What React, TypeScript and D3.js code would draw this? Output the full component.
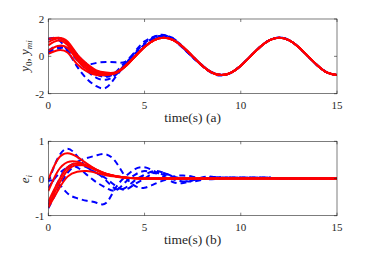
import React from "react";
import * as d3 from "d3";

const timeGrid = [0,0.5,1,1.5,2,2.5,3,3.5,4,4.5,5,5.5,6,6.5,7,7.5,8,8.5,9,9.5,10,10.5,11,11.5,12,12.5,13,13.5,14,14.5,15];
const leader = [1,0.87,0.5,0,-0.5,-0.87,-1,-0.87,-0.5,0,0.5,0.87,1,0.87,0.5,0,-0.5,-0.87,-1,-0.87,-0.5,0,0.5,0.87,1,0.87,0.5,0,-0.5,-0.87,-1];

// (a) outputs, transient part (t = 0 .. 4.5 for red, 0 .. 9 for blue); afterwards they sit on the leader
const topRed1 = [0.94,0.99,0.8,0.1,-0.4,-0.75,-0.87,-0.85,-0.5,0];
const topRed2 = [0.76,0.95,0.7,0.0,-0.5,-0.8,-0.9,-0.87,-0.52,0];
const topRed3 = [0.59,0.85,0.6,-0.1,-0.6,-0.88,-0.95,-0.9,-0.55,-0.02];
const topRed4 = [0.32,0.55,0.45,-0.2,-0.7,-0.95,-0.98,-0.9,-0.55,-0.02];
const topRed5 = [0.14,0.33,0.2,-0.42,-0.8,-1.0,-1.0,-0.9,-0.55,-0.02];

const topBlue1 = [0.9,1.0,0.7,0.1,-0.45,-0.85,-1.05,-0.95,-0.4,0.15,0.6,0.95,1.12,0.95,0.5,0.0,-0.48,-0.87,-1.0];
const topBlue2 = [0.2,0.5,0.45,0.05,-0.4,-0.35,-0.3,-0.32,-0.3,0.05,0.5,0.9,1.1,0.95,0.5,0.0,-0.48,-0.86,-1.0];
const topBlue3 = [0.95,0.9,0.3,-0.55,-1.2,-1.6,-1.68,-1.1,-0.45,0.25,0.8,1.05,1.12,0.88,0.45,-0.05,-0.5,-0.85,-0.98];
const topBlue4 = [0.3,0.55,0.3,-0.2,-0.75,-1.15,-1.25,-1.0,-0.45,0.1,0.65,1.0,1.1,0.9,0.45,-0.05,-0.5,-0.85,-1.0];
const topBlue5 = [0.15,0.4,0.45,0.0,-0.55,-0.95,-1.1,-0.85,-0.3,0.2,0.7,1.05,1.15,0.9,0.45,-0.05,-0.52,-0.9,-1.02];

// (b) errors
const redErr1 = [-0.03,0.52,0.68,0.58,0.4,0.24,0.13,0.07,0.03,0.01,0,0,0,0,0,0,0,0,0,0,0,0,0,0,0,0,0,0,0,0,0];
const redErr2 = [-0.34,0.2,0.44,0.45,0.34,0.22,0.12,0.06,0.03,0.01,0,0,0,0,0,0,0,0,0,0,0,0,0,0,0,0,0,0,0,0,0];
const redErr3 = [-0.62,-0.1,0.3,0.4,0.35,0.24,0.13,0.06,0.03,0.01,0,0,0,0,0,0,0,0,0,0,0,0,0,0,0,0,0,0,0,0,0];
const redErr4 = [-0.72,-0.2,0.22,0.36,0.33,0.23,0.12,0.06,0.02,0.01,0,0,0,0,0,0,0,0,0,0,0,0,0,0,0,0,0,0,0,0,0];
const redErr5 = [-0.78,-0.32,0.05,0.18,0.2,0.15,0.09,0.05,0.02,0.01,0,0,0,0,0,0,0,0,0,0,0,0,0,0,0,0,0,0,0,0,0];

const blueErr1 = [-0.1,0.55,0.8,0.6,0.3,0.15,-0.05,-0.28,-0.25,-0.05,0.1,0.2,0.15,0.05,-0.05,-0.08,-0.03,0.02,0.03,0.02,0.02,0.02,0.02,0.02,0,0,0,0,0,0,0];
const blueErr2 = [-0.25,0.1,0.3,0.45,0.55,0.62,0.65,0.45,0.05,-0.2,-0.25,-0.15,-0.05,0.05,0.08,0.05,0,-0.02,0,0.02,0.02,0.02,0.02,0.02,0,0,0,0,0,0,0];
const blueErr3 = [-0.05,-0.12,-0.4,-0.53,-0.6,-0.65,-0.66,-0.25,0.05,0.25,0.3,0.2,0.05,-0.1,-0.12,-0.05,0.03,0.05,0.02,0.02,0.02,0.02,0.02,0.02,0,0,0,0,0,0,0];
const blueErr4 = [-0.7,-0.1,0.3,0.3,0.1,-0.1,-0.25,-0.32,-0.1,0.1,0.2,0.15,0.1,-0.02,-0.08,-0.05,0.02,0.03,0.02,0.02,0.02,0.02,0.02,0.02,0,0,0,0,0,0,0];
const blueErr5 = [-0.8,-0.3,0.15,0.35,0.3,0.15,0,-0.2,-0.3,-0.15,0,0.15,0.15,0.05,0,-0.03,0,0.02,0.02,0.02,0.02,0.02,0.02,0.02,0,0,0,0,0,0,0];

const xTicks = [0, 5, 10, 15];
const topYTicks = [-2, 0, 2];
const botYTicks = [-1, 0, 1];

const redErrs = [redErr1, redErr2, redErr3, redErr4, redErr5];
const blueErrs = [blueErr1, blueErr2, blueErr3, blueErr4, blueErr5];
const topReds = [topRed1, topRed2, topRed3, topRed4, topRed5];
const topBlues = [topBlue1, topBlue2, topBlue3, topBlue4, topBlue5];

const L = 48.3, R = 337;
const FONT = "'Liberation Serif', 'DejaVu Serif', serif";
const AX = "#262626";

function Panel({ top, bottom, yDomain, yTicks, blue, red, xlabel, ylabel, id }: any) {
  const x = d3.scaleLinear().domain([0, 15]).range([L, R]);
  const y = d3.scaleLinear().domain(yDomain).range([bottom, top]);
  const line = d3.line<number>().x((_, i) => x(timeGrid[i])).y((v) => y(v)).curve(d3.curveNatural);
  return (
    <g>
      <defs>
        <clipPath id={id}>
          <rect x={L} y={top} width={R - L} height={bottom - top} />
        </clipPath>
      </defs>
      <g clipPath={`url(#${id})`}>
        {blue.map((s: number[], i: number) => (
          <path key={"b" + i} d={line(s) || ""} fill="none" stroke="#0000ff" strokeWidth={2} strokeDasharray="6,4" />
        ))}
        {red.map((s: number[], i: number) => (
          <path key={"r" + i} d={line(s) || ""} fill="none" stroke="#ff0000" strokeWidth={2} />
        ))}
      </g>
      <rect x={L} y={top} width={R - L} height={bottom - top} fill="none" stroke={AX} strokeWidth={0.6} />
      {xTicks.map((t) => (
        <g key={"xt" + t}>
          <line x1={x(t)} x2={x(t)} y1={bottom} y2={bottom - 3} stroke={AX} strokeWidth={0.6} />
          <line x1={x(t)} x2={x(t)} y1={top} y2={top + 3} stroke={AX} strokeWidth={0.6} />
          <text x={x(t)} y={bottom + 15} textAnchor="middle" fontSize={11} fontFamily={FONT} fill={AX}>{t}</text>
        </g>
      ))}
      {yTicks.map((t: number) => (
        <g key={"yt" + t}>
          <line x1={L} x2={L + 3} y1={y(t)} y2={y(t)} stroke={AX} strokeWidth={0.6} />
          <line x1={R} x2={R - 3} y1={y(t)} y2={y(t)} stroke={AX} strokeWidth={0.6} />
          <text x={L - 4} y={y(t) + 4} textAnchor="end" fontSize={11} fontFamily={FONT} fill={AX}>{t < 0 ? "-" + Math.abs(t) : t}</text>
        </g>
      ))}
      <text x={(L + R) / 2} y={bottom + 28.5} textAnchor="middle" fontSize={13.5} fontFamily={FONT} fill={AX}>{xlabel}</text>
      {ylabel}
    </g>
  );
}

export default function App() {
  const topRed = topReds.map((s) => [...s, ...leader.slice(s.length)]);
  const topBlue = topBlues.map((s) => [...s, ...leader.slice(s.length)]);
  const topYLabel = (
    <text transform="translate(29,56) rotate(-90)" textAnchor="middle" fontSize={13} fontFamily={FONT} fill={AX}>
      <tspan fontStyle="italic">y</tspan>
      <tspan fontSize={9} dy={3}>0</tspan>
      <tspan dy={-3}>, </tspan>
      <tspan fontStyle="italic">y</tspan>
      <tspan fontSize={9} fontStyle="italic" dy={3}>mi</tspan>
    </text>
  );
  const botYLabel = (
    <text transform="translate(29,179) rotate(-90)" textAnchor="middle" fontSize={13} fontFamily={FONT} fill={AX}>
      <tspan fontStyle="italic">e</tspan>
      <tspan fontSize={9} fontStyle="italic" dy={3}>i</tspan>
    </text>
  );
  return (
    <svg width={372} height={257} style={{ position: "absolute", left: 0, top: 0, background: "#fff" }}>
      <rect width={372} height={257} fill="#fff" />
      <Panel id="c1" top={19} bottom={93.7} yDomain={[-2, 2]} yTicks={topYTicks} blue={topBlue} red={topRed} xlabel="time(s) (a)" ylabel={topYLabel} />
      <Panel id="c2" top={141.3} bottom={215.7} yDomain={[-1, 1]} yTicks={botYTicks} blue={blueErrs} red={redErrs} xlabel="time(s) (b)" ylabel={botYLabel} />
    </svg>
  );
}
